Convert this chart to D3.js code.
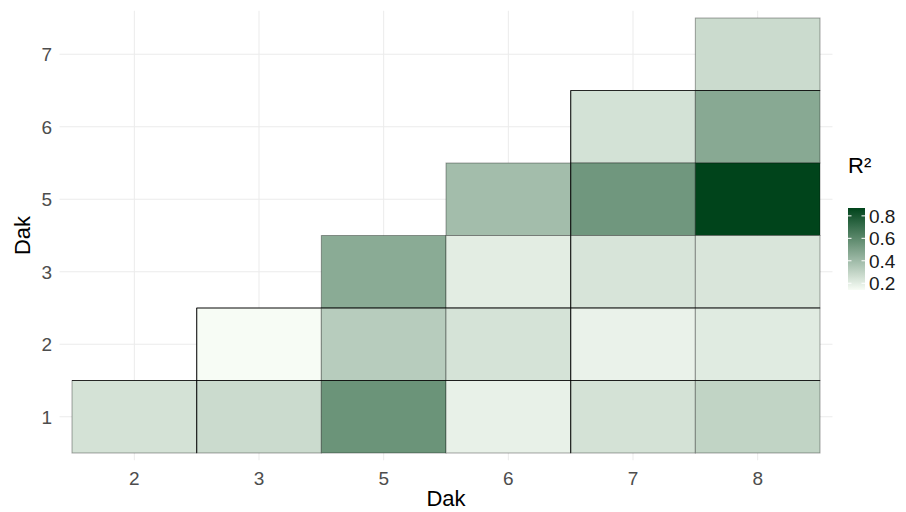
<!DOCTYPE html>
<html>
<head>
<meta charset="utf-8">
<script src="https://cdn.jsdelivr.net/npm/d3@7"></script>
<style>
  body { margin: 0; background: #fff; }
  text { font-family: "Liberation Sans", Arial, sans-serif; }
</style>
</head>
<body>
<script>
// categories
var xCats = ["2", "3", "5", "6", "7", "8"];
var yCats = ["1", "2", "3", "5", "6", "7"];

// tiles (lower triangle)
var tileX = ["8", "7", "8", "6", "7", "8", "5", "6", "7", "8", "3", "5", "6", "7", "8", "2", "3", "5", "6", "7", "8"];
var tileY = ["7", "6", "6", "5", "5", "5", "3", "3", "3", "3", "2", "2", "2", "2", "2", "1", "1", "1", "1", "1", "1"];
var r2 = [0.27, 0.245, 0.468, 0.388, 0.54, 0.87, 0.462, 0.199, 0.235, 0.23, 0.14, 0.329, 0.24, 0.178, 0.208, 0.243, 0.27, 0.554, 0.184, 0.243, 0.30];

// darker outline pieces (top edge of a row / left edge of a column)
var hEdgeRow = ["1", "2", "6"];
var hEdgeFrom = ["2", "3", "7"];
var hEdgeTo = ["8", "8", "8"];
var vEdgeCol = ["3", "7"];
var vEdgeFrom = ["1", "1"];
var vEdgeTo = ["2", "6"];

var legendTicks = [0.2, 0.4, 0.6, 0.8];

var width = 906, height = 512;

var svg = d3.select("body").append("svg")
  .attr("width", width)
  .attr("height", height);

var x = d3.scaleBand().domain(xCats).range([72, 820]);
var y = d3.scaleBand().domain(yCats).range([453, 18]);

var bw = x.bandwidth(), bh = y.bandwidth();
var panelLeft = 72 - 0.1 * bw, panelRight = 820 + 0.1 * bw;
var panelTop = 18 - 0.1 * bh, panelBottom = 453 + 0.1 * bh;

var extent = d3.extent(r2);
var color = d3.scaleLinear().domain(extent).range(["#f7fcf5", "#00441b"]);

// grid
var grid = svg.append("g").attr("class", "grid");
grid.selectAll("line.vx")
  .data(xCats)
  .enter().append("line")
  .attr("x1", d => x(d) + bw / 2)
  .attr("x2", d => x(d) + bw / 2)
  .attr("y1", panelTop)
  .attr("y2", panelBottom)
  .style("stroke", "#ebebeb")
  .style("stroke-width", 1);
grid.selectAll("line.hy")
  .data(yCats)
  .enter().append("line")
  .attr("y1", d => y(d) + bh / 2)
  .attr("y2", d => y(d) + bh / 2)
  .attr("x1", panelLeft)
  .attr("x2", panelRight)
  .style("stroke", "#ebebeb")
  .style("stroke-width", 1);

// tiles
var tiles = r2.map(function(v, i) { return { x: tileX[i], y: tileY[i], v: v }; });

svg.append("g").attr("class", "tiles")
  .selectAll("rect")
  .data(tiles)
  .enter().append("rect")
  .attr("x", d => x(d.x))
  .attr("y", d => y(d.y))
  .attr("width", bw)
  .attr("height", bh)
  .style("fill", d => color(d.v))
  .style("stroke", "#000")
  .style("stroke-opacity", 0.35)
  .style("stroke-width", 1);

// darker outline pieces
var edges = svg.append("g").attr("class", "edges");
hEdgeRow.forEach(function(r, i) {
  edges.append("line")
    .attr("x1", x(hEdgeFrom[i]))
    .attr("x2", x(hEdgeTo[i]) + bw)
    .attr("y1", y(r))
    .attr("y2", y(r))
    .style("stroke", "#000")
    .style("stroke-opacity", 0.75)
    .style("stroke-width", 1.2);
});
vEdgeCol.forEach(function(c, i) {
  edges.append("line")
    .attr("x1", x(c))
    .attr("x2", x(c))
    .attr("y1", y(vEdgeTo[i]))
    .attr("y2", y(vEdgeFrom[i]) + bh)
    .style("stroke", "#000")
    .style("stroke-opacity", 0.75)
    .style("stroke-width", 1.2);
});

// axis labels
svg.append("g").selectAll("text")
  .data(xCats)
  .enter().append("text")
  .attr("x", d => x(d) + bw / 2)
  .attr("y", 485)
  .attr("text-anchor", "middle")
  .style("font-size", "19px")
  .style("fill", "#4d4d4d")
  .text(d => d);

svg.append("g").selectAll("text")
  .data(yCats)
  .enter().append("text")
  .attr("x", 52)
  .attr("y", d => y(d) + bh / 2)
  .attr("dy", "0.36em")
  .attr("text-anchor", "end")
  .style("font-size", "19px")
  .style("fill", "#4d4d4d")
  .text(d => d);

svg.append("text")
  .attr("x", (panelLeft + panelRight) / 2)
  .attr("y", 506)
  .attr("text-anchor", "middle")
  .style("font-size", "22px")
  .style("fill", "#000")
  .text("Dak");

svg.append("text")
  .attr("transform", "translate(30," + ((panelTop + panelBottom) / 2) + ") rotate(-90)")
  .attr("text-anchor", "middle")
  .style("font-size", "22px")
  .style("fill", "#000")
  .text("Dak");

// legend
var lx = 848, lw = 17, lTop = 208, lBottom = 290;
var ly = d3.scaleLinear().domain(extent).range([lBottom, lTop]);

var defs = svg.append("defs");
var grad = defs.append("linearGradient")
  .attr("id", "r2grad")
  .attr("x1", 0).attr("y1", 1).attr("x2", 0).attr("y2", 0);
d3.range(0, 1.0001, 0.1).forEach(function(t) {
  grad.append("stop")
    .attr("offset", t)
    .attr("stop-color", color(extent[0] + t * (extent[1] - extent[0])));
});

svg.append("text")
  .attr("x", lx)
  .attr("y", 173)
  .style("font-size", "22px")
  .style("fill", "#000")
  .text("R²");

svg.append("rect")
  .attr("x", lx)
  .attr("y", lTop)
  .attr("width", lw)
  .attr("height", lBottom - lTop)
  .style("fill", "url(#r2grad)");

var lt = svg.append("g").attr("class", "legend-ticks");
legendTicks.forEach(function(v) {
  lt.append("line")
    .attr("x1", lx).attr("x2", lx + 3.5)
    .attr("y1", ly(v)).attr("y2", ly(v))
    .style("stroke", "#fff").style("stroke-width", 1);
  lt.append("line")
    .attr("x1", lx + lw - 3.5).attr("x2", lx + lw)
    .attr("y1", ly(v)).attr("y2", ly(v))
    .style("stroke", "#fff").style("stroke-width", 1);
  lt.append("text")
    .attr("x", lx + lw + 4)
    .attr("y", ly(v))
    .attr("dy", "0.36em")
    .style("font-size", "19px")
    .style("fill", "#1a1a1a")
    .text(d3.format(".1f")(v));
});
</script>
</body>
</html>
